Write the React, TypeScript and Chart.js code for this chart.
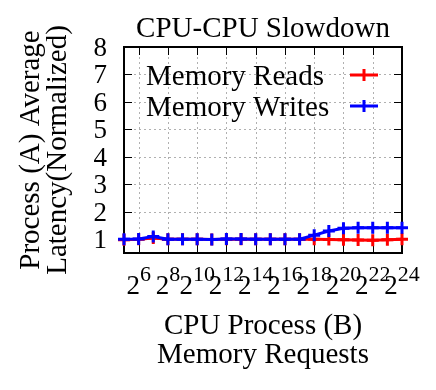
import React, { useEffect, useRef } from "react";
import { Chart, registerables } from "chart.js";

Chart.register(...registerables);

const exponents = [5, 6, 7, 8, 9, 10, 11, 12, 13, 14, 15, 16, 17, 18, 19, 20, 21, 22, 23, 24];
const readsValues = [0.98, 1.0, 1.05, 1.0, 1.0, 1.0, 0.99, 1.0, 1.0, 1.0, 1.0, 1.0, 1.0, 1.0, 0.99, 0.98, 0.97, 0.96, 0.98, 1.0];
const writesValues = [1.0, 1.01, 1.1, 1.0, 1.0, 1.0, 0.99, 1.01, 1.01, 1.0, 1.0, 1.0, 1.0, 1.15, 1.3, 1.4, 1.42, 1.42, 1.42, 1.42];
const xTickExponents = [6, 8, 10, 12, 14, 16, 18, 20, 22, 24];
const yTicks = [1, 2, 3, 4, 5, 6, 7, 8];
const seriesNames = ["Memory Reads", "Memory Writes"];
const seriesColors = ["#ff0000", "#0000ff"];
const titleText = "CPU-CPU Slowdown";
const xTitleLines = ["CPU Process (B)", "Memory Requests"];
const yTitleLines = ["Process (A) Average", "Latency(Normalized)"];

const FONT = "'Liberation Serif', 'Times New Roman', serif";

const framePlugin = {
  id: "gnuplotFrame",
  beforeDatasetsDraw(chart: any) {
    const { ctx, chartArea: a, scales } = chart;
    const xs = scales.x;
    const ys = scales.y;
    ctx.save();
    // dotted grid
    ctx.strokeStyle = "#b0b0b0";
    ctx.lineWidth = 1;
    ctx.setLineDash([2, 3]);
    xTickExponents.forEach((e) => {
      const px = Math.round(xs.getPixelForValue(e)) + 0.5;
      if (px > a.left + 2 && px < a.right - 2) {
        ctx.beginPath();
        ctx.moveTo(px, a.top);
        ctx.lineTo(px, a.bottom);
        ctx.stroke();
      }
    });
    yTicks.forEach((v) => {
      const py = Math.round(ys.getPixelForValue(v)) + 0.5;
      if (py > a.top + 2 && py < a.bottom - 2) {
        ctx.beginPath();
        ctx.moveTo(a.left, py);
        ctx.lineTo(a.right, py);
        ctx.stroke();
      }
    });
    ctx.setLineDash([]);
    // tick marks
    ctx.strokeStyle = "#000";
    ctx.lineWidth = 1;
    xTickExponents.forEach((e) => {
      const px = Math.round(xs.getPixelForValue(e)) + 0.5;
      ctx.beginPath();
      ctx.moveTo(px, a.top);
      ctx.lineTo(px, a.top + 8);
      ctx.moveTo(px, a.bottom);
      ctx.lineTo(px, a.bottom - 8);
      ctx.stroke();
    });
    yTicks.forEach((v) => {
      const py = Math.round(ys.getPixelForValue(v)) + 0.5;
      ctx.beginPath();
      ctx.moveTo(a.left, py);
      ctx.lineTo(a.left + 8, py);
      ctx.moveTo(a.right, py);
      ctx.lineTo(a.right - 8, py);
      ctx.stroke();
    });
    // box
    ctx.lineWidth = 2;
    ctx.strokeRect(a.left, a.top, a.right - a.left, a.bottom - a.top);
    ctx.restore();
  },
  afterDraw(chart: any) {
    const { ctx, chartArea: a, scales } = chart;
    const xs = scales.x;
    const ys = scales.y;
    const cx = (a.left + a.right) / 2;
    ctx.save();
    ctx.fillStyle = "#000";
    // title
    ctx.font = `29px ${FONT}`;
    ctx.textAlign = "center";
    ctx.textBaseline = "alphabetic";
    ctx.fillText(titleText, cx, 37);
    // y tick labels
    ctx.font = `27px ${FONT}`;
    ctx.textAlign = "right";
    yTicks.forEach((v) => {
      const py = ys.getPixelForValue(v);
      ctx.fillText(String(v), a.left - 17, py + 9);
    });
    // x tick labels 2^n
    ctx.textAlign = "left";
    xTickExponents.forEach((e) => {
      const px = xs.getPixelForValue(e);
      ctx.font = `27px ${FONT}`;
      const wb = ctx.measureText("2").width;
      ctx.font = `22px ${FONT}`;
      const ws = ctx.measureText(String(e)).width;
      const start = px - (wb + ws) / 2;
      ctx.font = `27px ${FONT}`;
      ctx.fillText("2", start, a.bottom + 41);
      ctx.font = `22px ${FONT}`;
      ctx.fillText(String(e), start + wb, a.bottom + 28);
    });
    // x title
    ctx.font = `29px ${FONT}`;
    ctx.textAlign = "center";
    ctx.fillText(xTitleLines[0], cx, 334);
    ctx.fillText(xTitleLines[1], cx, 363);
    // y title
    const cy = (a.top + a.bottom) / 2;
    ctx.save();
    ctx.translate(39, cy);
    ctx.rotate(-Math.PI / 2);
    ctx.fillText(yTitleLines[0], 0, 0);
    ctx.restore();
    ctx.save();
    ctx.translate(66, cy);
    ctx.rotate(-Math.PI / 2);
    ctx.fillText(yTitleLines[1], 0, 0);
    ctx.restore();
    // legend
    ctx.font = `29px ${FONT}`;
    ctx.textAlign = "left";
    const rows = [85, 116];
    seriesNames.forEach((name, i) => {
      ctx.fillStyle = "#000";
      ctx.fillText(name, a.left + 22, rows[i]);
      const ly = rows[i] - 10;
      ctx.strokeStyle = seriesColors[i];
      ctx.lineWidth = 3;
      ctx.beginPath();
      ctx.moveTo(a.right - 52, ly);
      ctx.lineTo(a.right - 24, ly);
      ctx.moveTo(a.right - 38, ly - 6);
      ctx.lineTo(a.right - 38, ly + 6);
      ctx.stroke();
    });
    ctx.restore();
  },
};

export default function App() {
  const ref = useRef<HTMLCanvasElement | null>(null);
  useEffect(() => {
    if (!ref.current) return;
    const mk = (vals: number[]) => exponents.map((e, i) => ({ x: e, y: vals[i] }));
    const chart = new Chart(ref.current, {
      type: "line",
      data: {
        datasets: [
          {
            label: seriesNames[0],
            data: mk(readsValues),
            borderColor: seriesColors[0],
            backgroundColor: seriesColors[0],
            borderWidth: 3,
            pointStyle: "cross",
            pointRadius: 6,
            pointBorderWidth: 3,
            tension: 0,
            clip: false as any,
            order: 2,
          },
          {
            label: seriesNames[1],
            data: mk(writesValues),
            borderColor: seriesColors[1],
            backgroundColor: seriesColors[1],
            borderWidth: 3,
            pointStyle: "cross",
            pointRadius: 6,
            pointBorderWidth: 3,
            tension: 0,
            clip: false as any,
            order: 1,
          },
        ],
      },
      options: {
        responsive: false,
        animation: false,
        devicePixelRatio: 1,
        layout: { padding: { left: 124, right: 34, top: 47, bottom: 137 } },
        plugins: { legend: { display: false }, tooltip: { enabled: false }, title: { display: false } },
        scales: {
          x: { type: "linear", min: 5, max: 24, display: false },
          y: { type: "linear", min: 0.5, max: 8, display: false },
        },
      },
      plugins: [framePlugin],
    });
    return () => chart.destroy();
  }, []);
  return (
    <div style={{ position: "absolute", left: 0, top: 0, width: 436, height: 390, background: "#fff" }}>
      <canvas ref={ref} width={436} height={390} />
    </div>
  );
}
